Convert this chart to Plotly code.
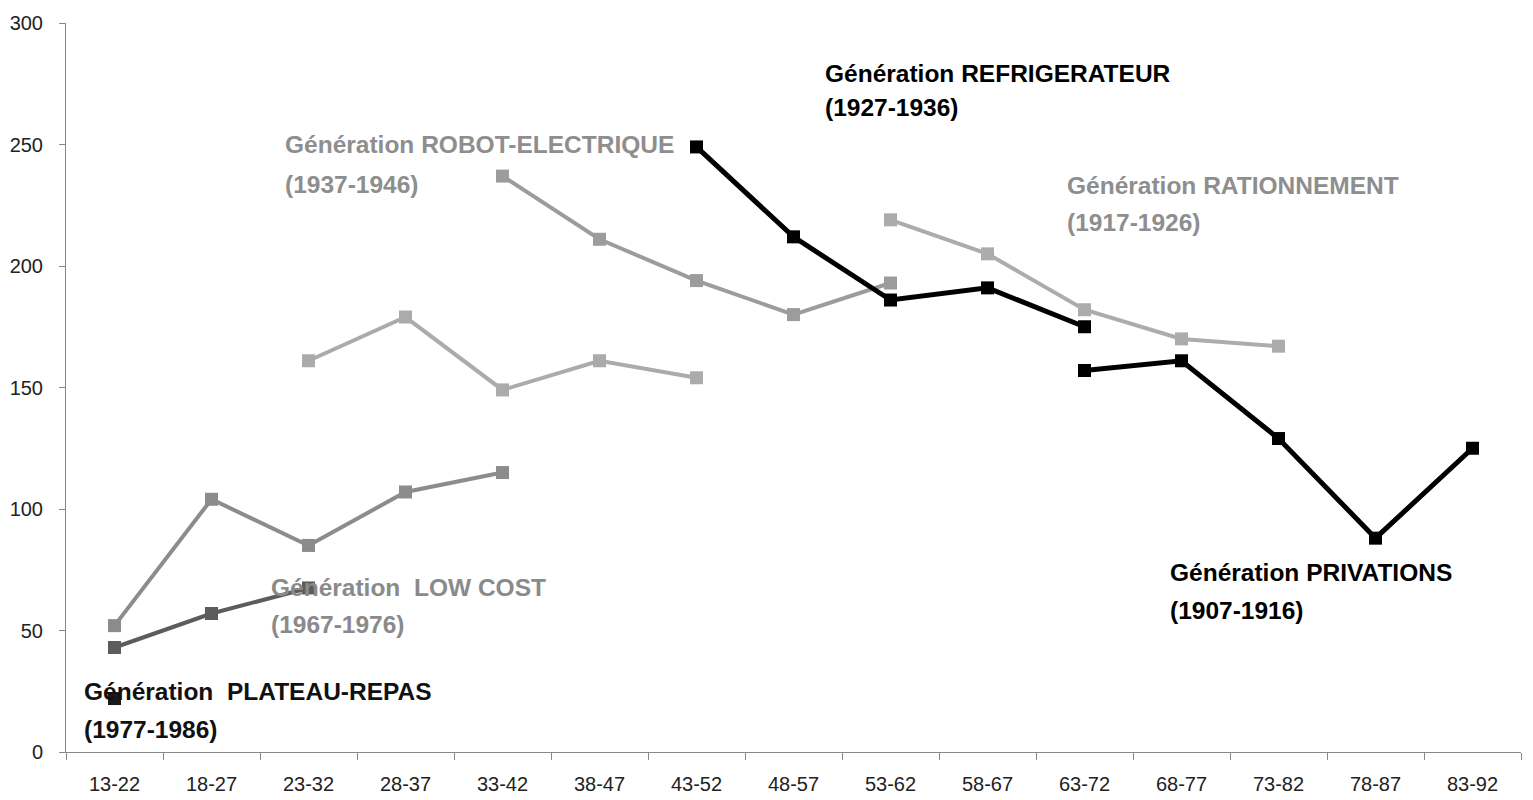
import plotly.graph_objects as go

categories = ["13-22", "18-27", "23-32", "28-37", "33-42", "38-47", "43-52", "48-57",
              "53-62", "58-67", "63-72", "68-77", "73-82", "78-87", "83-92"]
N = None
privations    = [N, N, N, N, N, N, N, N, N, N, 157, 161, 129, 88, 125]
rationnement  = [N, N, N, N, N, N, N, N, 219, 205, 182, 170, 167, N, N]
refrigerateur = [N, N, N, N, N, N, 249, 212, 186, 191, 175, N, N, N, N]
robot_elec    = [N, N, N, N, 237, 211, 194, 180, 193, N, N, N, N, N, N]
mai68         = [N, N, 161, 179, 149, 161, 154, N, N, N, N, N, N, N, N]
aliment_serv  = [52, 104, 85, 107, 115, N, N, N, N, N, N, N, N, N, N]
low_cost      = [43, 57, 67.5, N, N, N, N, N, N, N, N, N, N, N, N]
plateau_repas = [22, N, N, N, N, N, N, N, N, N, N, N, N, N, N]

series = [
    ("Génération ROBOT-ELECTRIQUE", "(1937-1946)", robot_elec, "#9c9c9c", 4),
    ("Génération RATIONNEMENT", "(1917-1926)", rationnement, "#acacac", 4),
    ("Génération  MAI 68 – Hypermarché", "(1947-1956)", mai68, "#ababab", 4),
    ("Génération  ALIMENT-SERVICES", "(1957-1966)", aliment_serv, "#8c8c8c", 4),
    ("Génération  LOW COST", "(1967-1976)", low_cost, "#5c5c5c", 4),
    ("Génération REFRIGERATEUR", "(1927-1936)", refrigerateur, "#000000", 5),
    ("Génération PRIVATIONS", "(1907-1916)", privations, "#000000", 5),
    ("Génération  PLATEAU-REPAS", "(1977-1986)", plateau_repas, "#1a1a1a", 5),
]

# label positions (category index, value of line 1, value of line 2) and text colour
label_pos = {
    "Génération REFRIGERATEUR": (7.30, 279.4, 265.4, "#000000"),
    "Génération ROBOT-ELECTRIQUE": (1.74, 249.8, 233.7, "#8e8e8e"),
    "Génération RATIONNEMENT": (9.80, 233.3, 218.1, "#8e8e8e"),
    "Génération  MAI 68 – Hypermarché": (-0.61, 208.6, 193.4, "#b2b2b2"),
    "Génération  ALIMENT-SERVICES": (-0.76, 132.5, 117.7, "#8a8a8a"),
    "Génération  LOW COST": (1.59, 67.9, 52.3, "#8a8a8a"),
    "Génération  PLATEAU-REPAS": (-0.33, 24.7, 9.1, "#111111"),
    "Génération PRIVATIONS": (10.86, 73.7, 58.4, "#000000"),
}

FONT = "Liberation Sans Narrow, Arial Narrow, Liberation Sans, Arial, sans-serif"

fig = go.Figure()
for name, years, vals, col, w in series:
    fig.add_trace(go.Scatter(
        x=categories, y=vals, mode="lines+markers", name=name,
        line=dict(color=col, width=w),
        marker=dict(symbol="square", size=13, color=col),
        connectgaps=False, showlegend=False, cliponaxis=False,
    ))

for name, years, vals, col, w in series:
    xi, y1, y2, tcol = label_pos[name]
    for txt, yy in ((name, y1), (years, y2)):
        fig.add_annotation(
            x=xi, y=yy, xref="x", yref="y", text="<b>" + txt + "</b>",
            showarrow=False, xanchor="left", yanchor="middle",
            font=dict(family=FONT, size=24.5, color=tcol),
        )

fig.update_layout(
    width=1533, height=800,
    margin=dict(l=58, r=20, t=15, b=56),
    plot_bgcolor="white", paper_bgcolor="white",
    font=dict(family=FONT, size=20, color="#222222"),
)
fig.update_xaxes(
    type="category", categoryorder="array", categoryarray=categories,
    range=[-0.5, len(categories) - 0.5], automargin=False,
    showline=True, linecolor="#888888", linewidth=1,
    ticks="outside", tickson="boundaries", ticklen=7, tickcolor="#888888",
    ticklabelstandoff=14,
    showgrid=False, zeroline=False, tickfont=dict(size=20, color="#222222"),
)
fig.update_yaxes(
    range=[0, 300], tickvals=[0, 50, 100, 150, 200, 250, 300], automargin=False,
    showline=True, linecolor="#888888", linewidth=1,
    ticks="outside", ticklen=6, tickcolor="#888888",
    ticklabelstandoff=12,
    showgrid=False, zeroline=False, tickfont=dict(size=20, color="#222222"),
)

fig.write_html("out.html")
